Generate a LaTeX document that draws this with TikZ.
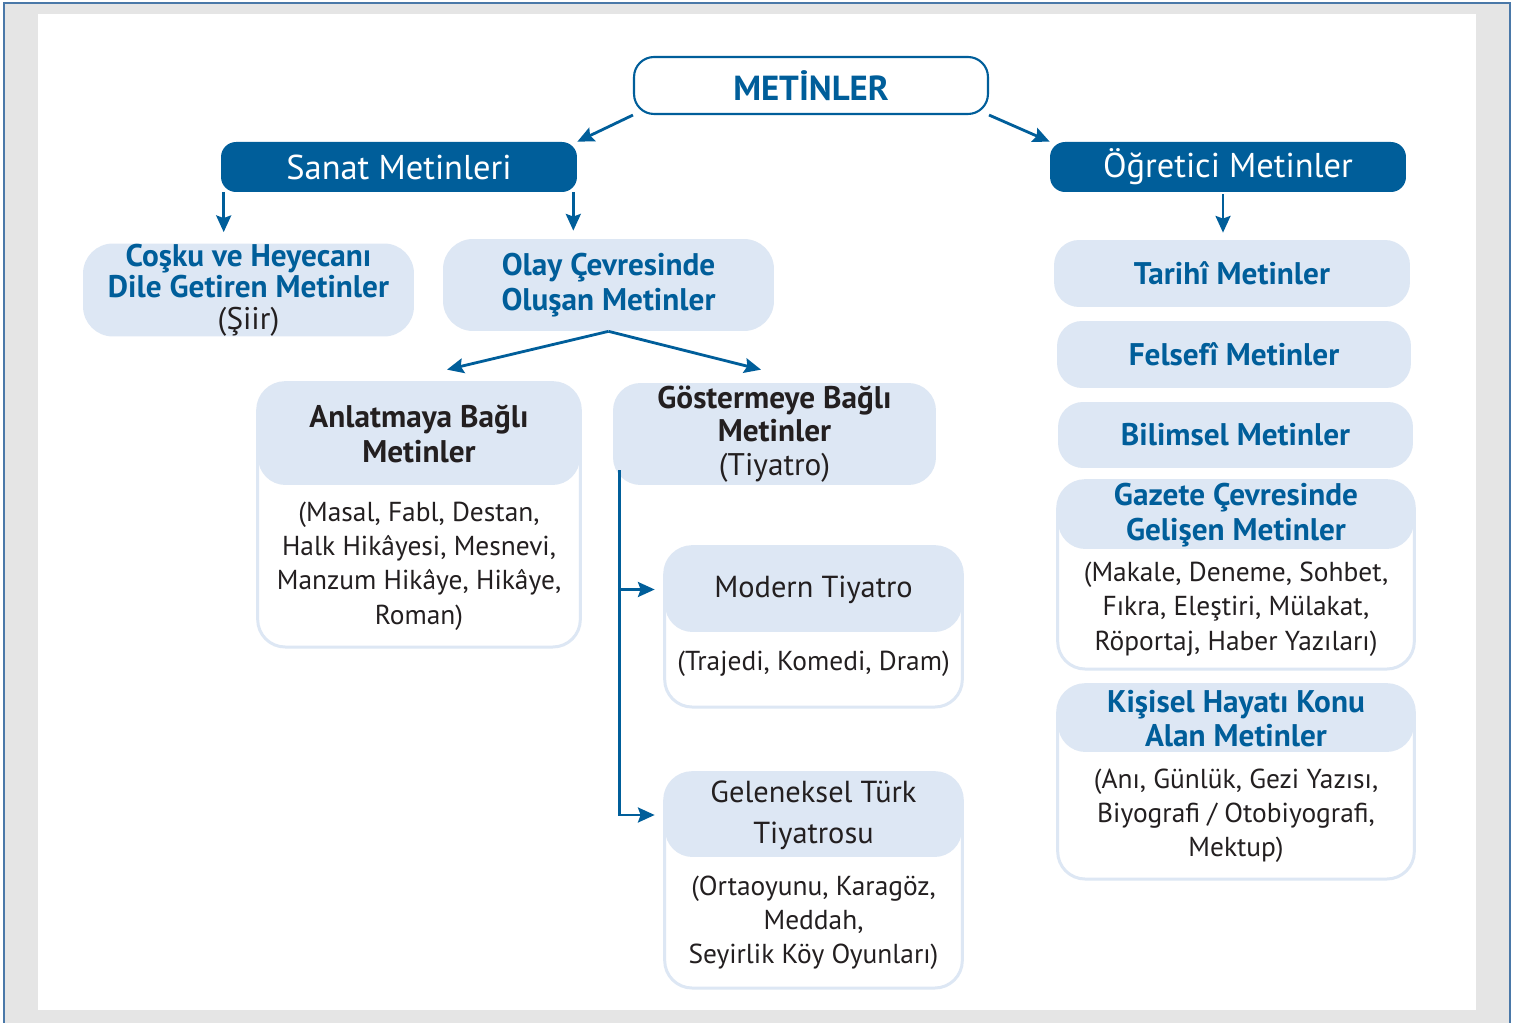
\documentclass[tikz,border=0pt]{standalone}
\usepackage{fontspec}
\setmainfont{PT Sans}
\usetikzlibrary{positioning,fit,backgrounds,arrows.meta}
\definecolor{koyumavi}{RGB}{0,94,154}
\definecolor{acikmavi}{RGB}{221,231,244}
\definecolor{yazisiyah}{RGB}{35,31,32}
\definecolor{cerceve}{RGB}{74,120,168}
\definecolor{zemin}{RGB}{229,229,229}
\begin{document}
\begin{tikzpicture}[x=0.02cm,y=-0.02cm]

	\tikzset{
	  ana/.style={draw=koyumavi, line width=1.2pt, fill=white, rounded corners=0.4cm,
		minimum width=7.08cm, minimum height=1.14cm, text=koyumavi,
		font=\fontsize{19.8}{22}\selectfont\bfseries},
	  grup/.style={fill=koyumavi, rounded corners=0.3cm, minimum width=7.12cm,
		minimum height=1cm, text=white, font=\fontsize{19.6}{21}\selectfont},
	  tur/.style={fill=acikmavi, rounded corners=0.6cm, align=center, inner sep=0pt,
		text=koyumavi, font=\fontsize{17.8}{18}\selectfont\bfseries},
	  baslik/.style={fill=acikmavi, rounded corners=0.55cm, align=center, inner sep=0pt},
	  govde/.style={align=center, inner sep=0pt, text=yazisiyah,
		font=\fontsize{15.6}{19.4}\selectfont},
	  kutu/.style={draw=acikmavi, line width=1.7pt, fill=white, rounded corners=0.55cm,
		inner sep=0pt},
	  ok/.style={draw=koyumavi, line width=1.6pt, -{Stealth[length=9.5pt,width=8.5pt,inset=1.5pt]}},
	}
	\useasboundingbox (0,0) rectangle (1518,1023);
	\begin{scope}[on background layer]
		\fill[white] (0,0) rectangle (1518,1023);
		\fill[zemin] (4,3) rectangle (1510,1023);
		\draw[cerceve, line width=1.2pt] (4,1023) -- (4,3) -- (1510,3) -- (1510,1023);
		\fill[white] (38,14) rectangle (1476,1010);
	\end{scope}

	\node[ana] (metinler) at (811,85.5) {METİNLER};
	\node[grup] (sanat) at (399,167) {Sanat Metinleri};
	\node[grup] (ogretici) at (1228,167) {Öğretici Metinler};

	\node[tur, minimum width=6.62cm, minimum height=1.86cm] (cosku) at (248.5,290)
		{Coşku ve Heyecanı\\Dile Getiren Metinler\\{\color{yazisiyah}\mdseries (Şiir)}};
	\node[tur, minimum width=6.62cm, minimum height=1.84cm,
		font=\fontsize{17.8}{20}\selectfont\bfseries] (olay) at (608.5,285)
		{Olay Çevresinde\\Oluşan Metinler};

	\node[baslik, minimum width=6.44cm, minimum height=2.04cm, text=yazisiyah,
		font=\fontsize{17.8}{19.4}\selectfont\bfseries] (anlat) at (419,434) {Anlatmaya Bağlı\\Metinler};
	\node[govde, minimum width=6.44cm, minimum height=3.22cm, below=0pt of anlat] (anlatB)
		{(Masal, Fabl, Destan,\\Halk Hikâyesi, Mesnevi,\\Manzum Hikâye, Hikâye,\\Roman)};
	\node[baslik, minimum width=6.46cm, minimum height=2.04cm, text=yazisiyah,
		font=\fontsize{17.8}{19}\selectfont\bfseries] (goster) at (774.5,434)
		{Göstermeye Bağlı\\Metinler\\{\mdseries (Tiyatro)}};

	\node[baslik, minimum width=5.94cm, minimum height=1.7cm, text=yazisiyah,
		font=\fontsize{17.3}{23.5}\selectfont] (modern) at (813.5,589.5) {Modern Tiyatro};
	\node[govde, minimum width=5.94cm, minimum height=1.48cm, text depth=0.34cm,
		below=0pt of modern] (modernB) {(Trajedi, Komedi, Dram)};
	\node[baslik, minimum width=5.94cm, minimum height=1.68cm, text=yazisiyah,
		font=\fontsize{17.3}{23.5}\selectfont] (gelenek) at (813.5,815) {Geleneksel Türk\\Tiyatrosu};
	\node[govde, minimum width=5.94cm, minimum height=2.6cm, below=0pt of gelenek] (gelenekB)
		{(Ortaoyunu, Karagöz,\\Meddah,\\Seyirlik Köy Oyunları)};

	\node[tur, minimum width=7.12cm, minimum height=1.34cm, rounded corners=0.5cm] (tarihi)
		at (1232,273.5) {Tarihî Metinler};
	\node[tur, minimum width=7.08cm, minimum height=1.34cm, rounded corners=0.5cm] (felsefi)
		at (1234,354.5) {Felsefî Metinler};
	\node[tur, minimum width=7.1cm, minimum height=1.32cm, rounded corners=0.5cm] (bilimsel)
		at (1235.5,435) {Bilimsel Metinler};
	\node[baslik, minimum width=7.12cm, minimum height=1.36cm, text=koyumavi,
		font=\fontsize{17.8}{19.9}\selectfont\bfseries] (gazete) at (1236,515)
		{Gazete Çevresinde\\Gelişen Metinler};
	\node[govde, minimum width=7.12cm, minimum height=2.38cm, below=0pt of gazete] (gazeteB)
		{(Makale, Deneme, Sohbet,\\Fıkra, Eleştiri, Mülakat,\\Röportaj, Haber Yazıları)};
	\node[baslik, minimum width=7.12cm, minimum height=1.34cm, text=koyumavi,
		font=\fontsize{17.8}{19}\selectfont\bfseries] (kisisel) at (1236,718.5)
		{Kişisel Hayatı Konu\\Alan Metinler};
	\node[govde, minimum width=7.12cm, minimum height=2.52cm, below=0pt of kisisel] (kisiselB)
		{(Anı, Günlük, Gezi Yazısı,\\Biyografi / Otobiyografi,\\Mektup)};

	\begin{scope}[on background layer]
		\node[kutu, fit=(anlat)(anlatB)] (anlatK) {};
		\node[kutu, fit=(modern)(modernB)] (modernK) {};
		\node[kutu, fit=(gelenek)(gelenekB)] (gelenekK) {};
		\node[kutu, fit=(gazete)(gazeteB)] (gazeteK) {};
		\node[kutu, fit=(kisisel)(kisiselB)] (kisiselK) {};
	\end{scope}

	\draw[ok] (metinler.south west) -- (sanat.north east);
	\draw[ok] (metinler.south east) -- (ogretici.north west);
	\draw[ok, shorten >=0.22cm] (sanat.south west) ++(3,0) coordinate (s1) -- (s1 |- cosku.north);
	\draw[ok, shorten >=0.16cm] (sanat.south east) ++(-4,0) coordinate (s2) -- (s2 |- olay.north);
	\draw[ok, shorten >=0.14cm] (ogretici.south) ++(-5,2) coordinate (o1) -- (o1 |- tarihi.north);
	\draw[ok] (olay.south) -- ([shift={(28,-13)}]anlat.north);
	\draw[ok] (olay.south) -- ([shift={(-13.5,-13)}]goster.north);
	\coordinate (gkol) at ([shift={(7,-15)}]goster.south west);
	\draw[ok, shorten >=0.2cm] (gkol) |- (gelenek.west);
	\draw[ok, shorten >=0.2cm] (gkol |- modern.west) -- (modern.west);

\end{tikzpicture}
\end{document}
